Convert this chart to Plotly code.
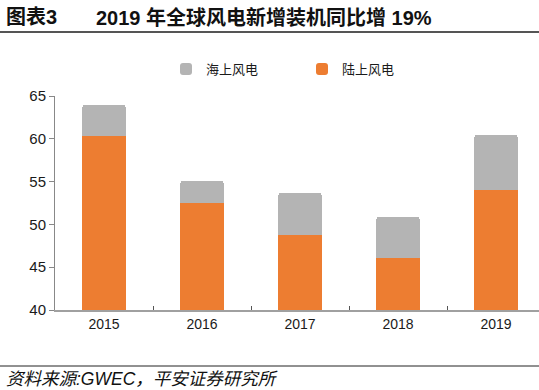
import plotly.graph_objects as go

years = ["2015", "2016", "2017", "2018", "2019"]
onshore = [60.3, 52.5, 48.8, 46.1, 54.0]
offshore = [3.7, 2.6, 4.9, 4.8, 6.5]
y_ticks = [40, 45, 50, 55, 60, 65]

W, H = 539, 390
L, R, T, B = 55, 0, 96, 80
PH = H - T - B
PW = W - L - R

def py(ypix):
    return (H - B - ypix) / PH

def px(xpix):
    return (xpix - L) / PW

FONT = "Liberation Sans, Arial, Noto Sans CJK SC"
ORANGE = "#ED7D31"
GRAY = "#B4B4B4"

fig = go.Figure()
fig.add_trace(go.Bar(x=years, y=onshore, name="陆上风电", marker=dict(color=ORANGE, line=dict(width=0))))
fig.add_trace(go.Bar(x=years, y=offshore, name="海上风电", marker=dict(color=GRAY, line=dict(width=0))))

fig.update_layout(
    width=W, height=H,
    margin=dict(l=L, r=R, t=T, b=B, pad=0),
    barmode="stack",
    bargap=0.56,
    barcornerradius=3,
    plot_bgcolor="white", paper_bgcolor="white",
    font=dict(family=FONT, size=14, color="#1a1a1a"),
    showlegend=True,
    legend=dict(orientation="h", x=px(166), y=py(69), xanchor="left", yanchor="middle",
                traceorder="reversed", font=dict(size=13, family="Noto Sans CJK SC", color="#1a1a1a"),
                entrywidth=91, itemwidth=30, bgcolor="rgba(0,0,0,0)"),
)

fig.update_xaxes(type="category", range=[-0.5, -0.5 + PW / 98.0],
                 showline=True, linecolor="#A0A0A0", linewidth=2,
                 ticks="inside", tickson="boundaries", ticklen=4, tickcolor="#555", tickwidth=1,
                 showgrid=False, tickfont=dict(size=14, family=FONT, color="#1a1a1a"))
fig.update_yaxes(range=[40, 65], tickvals=y_ticks, showline=True, linecolor="#888", linewidth=1,
                 ticks="outside", ticklen=5, tickcolor="#888", showgrid=False, zeroline=False,
                 tickfont=dict(size=15, family=FONT, color="#1a1a1a"))

fig.add_annotation(xref="paper", yref="paper", x=px(4), y=py(17), xanchor="left", yanchor="middle",
                   text="<b>图表3</b>", showarrow=False,
                   font=dict(size=20, family="Liberation Sans, Noto Sans CJK SC", color="#111"))
fig.add_annotation(xref="paper", yref="paper", x=px(94), y=py(17), xanchor="left", yanchor="middle",
                   text="<b>2019 年全球风电新增装机同比增 19%</b>", showarrow=False,
                   font=dict(size=20, family="Liberation Sans, Noto Sans CJK SC", color="#111"))
fig.add_annotation(xref="paper", yref="paper", x=px(4), y=py(379), xanchor="left", yanchor="middle",
                   text="<i>资料来源:GWEC，平安证券研究所</i>", showarrow=False,
                   font=dict(size=17.5, family="Liberation Sans, Noto Sans CJK SC", color="#111"))

fig.add_shape(type="line", xref="paper", yref="paper", x0=px(0), x1=px(W), y0=py(32), y1=py(32),
              line=dict(color="#555", width=2))
fig.add_shape(type="line", xref="paper", yref="paper", x0=px(0), x1=px(W), y0=py(366), y1=py(366),
              line=dict(color="#222", width=1))

fig.write_html("out.html", config={"displayModeBar": False},
               post_script="document.body.style.margin='0';document.body.style.overflow='hidden';")
